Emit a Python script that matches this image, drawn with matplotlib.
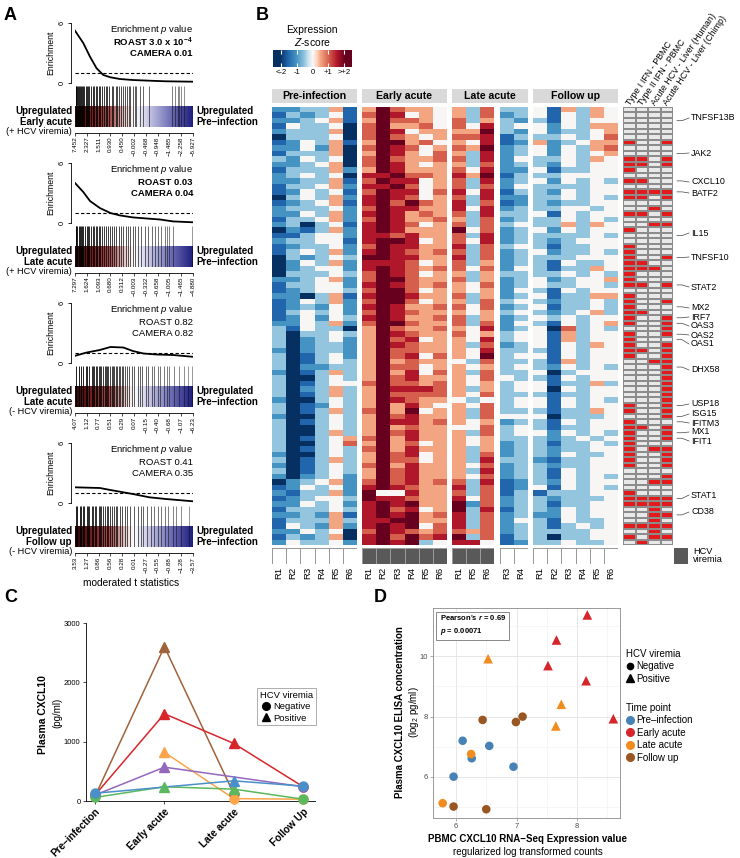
import numpy as np
import matplotlib
matplotlib.use('Agg')
import matplotlib.pyplot as plt
from matplotlib.colors import LinearSegmentedColormap, ListedColormap
from matplotlib.lines import Line2D
from matplotlib.patches import Rectangle

plt.rcParams['font.family'] = ['Liberation Sans', 'DejaVu Sans']
plt.rcParams['mathtext.fontset'] = 'custom'
plt.rcParams['mathtext.rm'] = 'Liberation Sans'
plt.rcParams['mathtext.it'] = 'Liberation Sans:italic'
plt.rcParams['mathtext.bf'] = 'Liberation Sans:bold'
plt.rcParams['mathtext.bfit'] = 'Liberation Sans:italic:bold'

W, H = 740, 858

# ---------------- panel A data (barcode plots) ----------------
a_left = ['Early acute', 'Late acute', 'Late acute', 'Follow up']
a_viremia = ['(+ HCV viremia)', '(+ HCV viremia)', '(- HCV viremia)', '(- HCV viremia)']
a_roast = ['ROAST 3.0 x 10$^{\\mathbf{-4}}$', 'ROAST 0.03', 'ROAST 0.82', 'ROAST 0.41']
a_camera = ['CAMERA 0.01', 'CAMERA 0.04', 'CAMERA 0.82', 'CAMERA 0.35']
a_bold = [True, True, False, False]
a_ticks = [
    ['7.452', '2.327', '1.511', '0.930', '0.450', '−0.002', '−0.468', '−0.948', '−1.485', '−2.258', '−5.927'],
    ['7.297', '1.624', '1.093', '0.680', '0.312', '−0.003', '−0.332', '−0.658', '−1.005', '−1.465', '−4.880'],
    ['4.07', '1.12', '0.77', '0.51', '0.29', '0.07', '−0.15', '−0.40', '−0.68', '−1.07', '−6.23'],
    ['3.53', '1.27', '0.86', '0.56', '0.28', '0.01', '−0.27', '−0.55', '−0.88', '−1.28', '−3.57'],
]
a_curve_x = [
    [0, 0.07, 0.127, 0.183, 0.24, 0.3, 0.38, 0.49, 0.63, 0.77, 1.0],
    [0, 0.07, 0.127, 0.21, 0.3, 0.38, 0.49, 0.63, 0.72, 0.83, 1.0],
    [0, 0.1, 0.21, 0.3, 0.41, 0.49, 0.58, 0.69, 0.83, 1.0],
    [0, 0.21, 0.3, 0.49, 0.63, 0.77, 1.0],
]
a_curve_y = [
    [5.23, 4.0, 2.63, 1.47, 0.8, 0.57, 0.4, 0.3, 0.23, 0.17, 0.13],
    [4.0, 3.1, 2.2, 1.5, 1.0, 0.76, 0.56, 0.43, 0.35, 0.16, 0.07],
    [0.72, 1.05, 1.3, 1.6, 1.55, 1.2, 0.95, 0.85, 0.8, 0.62],
    [1.57, 1.5, 1.3, 0.9, 0.57, 0.4, 0.17],
]
a_barcode = [
    [0.005, 0.012, 0.02, 0.028, 0.035, 0.045, 0.055, 0.062, 0.07, 0.08, 0.09, 0.1, 0.11, 0.12,
     0.135, 0.15, 0.16, 0.175, 0.19, 0.2, 0.215, 0.23, 0.245, 0.26, 0.275, 0.29, 0.31, 0.325,
     0.345, 0.36, 0.375, 0.39, 0.41, 0.425, 0.44, 0.455, 0.47, 0.49, 0.505, 0.52, 0.55, 0.58,
     0.63, 0.82, 0.845, 0.87, 0.885, 0.9, 0.925],
    [0.005, 0.012, 0.02, 0.03, 0.04, 0.05, 0.06, 0.07, 0.085, 0.1, 0.11, 0.12, 0.135, 0.15,
     0.165, 0.18, 0.19, 0.2, 0.215, 0.23, 0.245, 0.26, 0.28, 0.3, 0.315, 0.33, 0.35, 0.37,
     0.39, 0.41, 0.43, 0.45, 0.47, 0.49, 0.51, 0.53, 0.56, 0.59, 0.62, 0.65, 0.68, 0.7, 0.73,
     0.76, 0.78, 0.8, 0.83, 0.99],
    [0.01, 0.03, 0.05, 0.07, 0.09, 0.1, 0.12, 0.14, 0.15, 0.16, 0.18, 0.19, 0.2, 0.21, 0.22,
     0.24, 0.25, 0.26, 0.27, 0.28, 0.3, 0.31, 0.32, 0.33, 0.35, 0.36, 0.37, 0.38, 0.4, 0.41,
     0.42, 0.44, 0.46, 0.48, 0.5, 0.53, 0.55, 0.57, 0.6, 0.62, 0.65, 0.67, 0.7, 0.72, 0.75,
     0.78, 0.8, 0.84, 0.88, 0.92, 0.96, 0.99],
    [0.01, 0.02, 0.04, 0.05, 0.07, 0.08, 0.1, 0.11, 0.12, 0.14, 0.15, 0.17, 0.18, 0.2, 0.21,
     0.22, 0.24, 0.25, 0.27, 0.28, 0.3, 0.31, 0.33, 0.35, 0.36, 0.38, 0.4, 0.42, 0.44, 0.47,
     0.5, 0.53, 0.56, 0.58, 0.61, 0.64, 0.67, 0.7, 0.73, 0.76, 0.79, 0.83, 0.86, 0.9, 0.97],
]

# ---------------- panel B data (heatmap) ----------------
# digits 0..8 -> z-score -2..+2 ; groups: pre(R1-6) early(R1-6) late(R1 R5 R6) late(R3 R4) follow(R1-6)
zscore_rows = [
    "223351 586554 536 33 415354", "132341 687454 536 23 414354", "223451 586654 635 32 314344",
    "143340 685564 647 34 424355", "233350 687455 558 32 423345", "033340 686545 667 13 334346",
    "124351 588564 547 12 523455", "224250 687645 658 23 424356", "133350 587546 537 23 424345",
    "324340 686556 637 24 334354", "223450 687545 536 23 324344", "133352 587555 647 22 413344",
    "234340 778665 758 13 334444", "223351 687745 637 23 424343", "133452 778645 636 24 333344",
    "124341 687746 747 13 324344", "034352 787645 637 22 334343", "123451 786865 736 12 323344",
    "233342 687755 747 23 334434", "224352 787565 637 33 414344", "133452 687556 536 23 334343",
    "230341 787645 636 34 335354", "021352 787555 846 23 424344", "113442 776755 637 23 333343",
    "233441 788745 647 23 323444", "123342 687755 736 34 313344", "134352 787656 636 23 423343",
    "032343 887755 736 23 333444", "024352 777645 635 23 314334", "023442 787656 646 24 313354",
    "033343 687645 535 33 334343", "223452 688655 635 23 423445", "133442 787656 546 23 433443",
    "123443 688645 545 24 314344", "220351 788755 635 23 413355", "124352 688645 536 34 323343",
    "123242 787556 646 23 413343", "134342 687655 545 34 323453", "124243 787556 635 23 434344",
    "224352 688655 636 24 314345", "314330 586556 547 23 406343", "303343 587655 645 34 415344",
    "302342 586745 547 34 415344", "302332 587655 536 23 414354", "202332 586655 547 33 314344",
    "301342 586746 548 34 414344", "301343 585655 436 33 315344", "302233 586645 545 34 324343",
    "201353 585746 536 33 403444", "300343 586755 546 43 314344", "301344 686656 545 34 413353",
    "302353 587776 535 34 404344", "301353 586666 546 33 313344", "200343 587655 434 34 414343",
    "301243 585754 546 34 414344", "301353 685845 536 33 313354", "200343 586755 536 44 403334",
    "301343 587756 545 23 314344", "300343 585655 446 34 313344", "300353 586755 536 34 424343",
    "301345 685755 545 33 323434", "300346 585645 545 23 313343", "301343 685755 535 23 323344",
    "200343 586745 536 23 324334", "301353 586645 537 33 213344", "201343 685755 546 23 323344",
    "301343 586755 537 23 314344", "202342 586755 546 23 314343", "023452 686756 637 12 324344",
    "124342 787655 736 12 414343", "213352 844755 636 13 133344", "123443 877655 746 23 323334",
    "224342 787855 826 23 313344", "133343 786745 837 13 324344", "223251 787856 736 23 224344",
    "133353 778855 736 24 314334", "143252 787846 736 23 313434", "224340 687656 656 23 333344",
    "132350 786867 836 13 303344", "243342 787834 774 12 334334",
]
block_cols = [['R1', 'R2', 'R3', 'R4', 'R5', 'R6'], ['R1', 'R2', 'R3', 'R4', 'R5', 'R6'],
              ['R1', 'R5', 'R6'], ['R3', 'R4'], ['R1', 'R2', 'R3', 'R4', 'R5', 'R6']]
block_viremia = [[0] * 6, [1] * 6, [1, 1, 1], [0, 0], [0] * 6]
headers = ['Pre-infection', 'Early acute', 'Late acute', 'Follow up']

annot_names = ['Type I IFN - PBMC', 'Type II IFN - PBMC',
               'Acute HCV - Liver (Human)', 'Acute HCV - Liver (Chimp)']
annot_rows = [
    [6, 9, 10, 11, 13, 15, 16, 19, 22, 25, 26, 27, 28, 29, 30, 31, 32, 34, 35, 36, 37, 38, 39,
     41, 42, 43, 44, 45, 54, 55, 57, 58, 59, 60, 61, 62, 63, 64, 65, 70, 71, 72, 76, 78],
    [9, 10, 13, 15, 16, 19, 28, 29, 32, 37, 44, 58, 71, 72, 76, 79],
    [15, 18, 21, 29, 46, 62, 68, 71, 72, 73, 74, 75, 76, 77, 78],
    [6, 9, 10, 15, 16, 19, 21, 27, 32, 35, 38, 39, 40, 41, 43, 44, 45, 46, 47, 48, 49, 50, 51,
     52, 53, 54, 55, 56, 58, 59, 60, 62, 63, 64, 65, 67, 68, 71, 72, 74, 76, 78],
]
genes = ['TNFSF13B', 'JAK2', 'CXCL10', 'BATF2', 'IL15', 'TNFSF10', 'STAT2', 'MX2', 'IRF7',
         'OAS3', 'OAS2', 'OAS1', 'DHX58', 'USP18', 'ISG15', 'IFITM3', 'MX1', 'IFIT1', 'STAT1', 'CD38']
gene_rows = [2, 8, 13, 15, 23, 27, 32, 36, 38, 39, 41, 42, 47, 54, 56, 57, 59, 60, 71, 74]
gene_label_y = [118, 153, 182, 193, 233, 257, 287, 308, 317, 326, 335, 344, 370, 404, 414,
                423, 432, 441, 495, 512]

# ---------------- panel C data ----------------
c_stages = ['Pre–infection', 'Early acute', 'Late acute', 'Follow Up']
c_colors = ['#a0623a', '#d7262b', '#fca54a', '#9467bd', '#5cb85c', '#4a90c8']
c_values = [
    [80, 2600, 120, np.nan],
    [100, 1470, 970, 240],
    [np.nan, 820, 40, 30],
    [100, 570, np.nan, 240],
    [60, 240, 200, 30],
    [130, np.nan, 340, 250],
]
c_viremia = [
    [0, 1, 0, 0],
    [0, 1, 1, 0],
    [0, 1, 0, 0],
    [0, 1, 0, 0],
    [0, 1, 1, 0],
    [0, 1, 1, 0],
]

# ---------------- panel D data ----------------
d_timepoints = ['Pre–infection', 'Early acute', 'Late acute', 'Follow up']
d_colors = ['#4682b4', '#d7262b', '#f28c1e', '#995522']
d_x = [[6.11, 6.26, 6.55, 5.96, 6.95],
       [8.17, 7.66, 7.52, 8.15, 8.60],
       [6.53, 7.74, 7.65, 6.25, 5.78],
       [6.44, 6.99, 7.10, 5.96, 6.50]]
d_y = [[7.20, 6.62, 7.03, 6.01, 6.34],
       [11.37, 10.54, 9.69, 9.19, 7.93],
       [9.92, 8.41, 7.69, 6.76, 5.13],
       [7.89, 7.82, 8.00, 5.02, 4.93]]
d_viremia = [[0, 0, 0, 0, 0],
             [1, 1, 1, 1, 1],
             [1, 1, 1, 0, 0],
             [0, 0, 0, 0, 0]]

# ======================================================================
fig = plt.figure(figsize=(W / 100, H / 100), dpi=100)


def add_ax(x0, y0, x1, y1):
    return fig.add_axes([x0 / W, 1 - y1 / H, (x1 - x0) / W, (y1 - y0) / H])


ov = fig.add_axes([0, 0, 1, 1], zorder=10)
ov.set_xlim(0, W)
ov.set_ylim(H, 0)
ov.axis('off')

for lab, x, y in [('A', 4, 16), ('B', 256, 16), ('C', 4, 597), ('D', 374, 597)]:
    ov.text(x, y, lab, fontsize=13, fontweight='bold', va='center', ha='left')

# ---------------- panel A ----------------
band_cmap = LinearSegmentedColormap.from_list('band', [
    (0, '#2b0505'), (0.12, '#6e1b1b'), (0.3, '#a35050'), (0.44, '#eed6d6'), (0.5, '#ffffff'),
    (0.58, '#dcdcf0'), (0.8, '#7474b8'), (1, '#1e1e7e')])

for i in range(4):
    top = 23 + 140 * i
    ax = add_ax(75, top - 3, 193, top + 63)
    ax.set_xlim(0, 1)
    ax.set_ylim(-0.3, 6.3)
    ax.plot(a_curve_x[i], a_curve_y[i], color='black', lw=1.3)
    ax.axhline(1, ls=(0, (3, 2)), color='black', lw=0.8)
    for s in ['top', 'right', 'bottom']:
        ax.spines[s].set_visible(False)
    ax.spines['left'].set_position(('outward', 3))
    ax.spines['left'].set_bounds(0, 6)
    ax.spines['left'].set_linewidth(0.6)
    ax.set_xticks([])
    ax.set_yticks([0, 6])
    ax.set_yticklabels(['0', '6'], rotation=90, va='center', fontsize=5.5)
    ax.tick_params(axis='y', length=2.5, width=0.6, pad=1.5)
    ax.set_ylabel('Enrichment', fontsize=6.3, labelpad=2)
    ax.patch.set_alpha(0)

    bx = add_ax(75, top + 63, 193, top + 104)
    bx.set_xlim(0, 1)
    bx.set_ylim(0, 2)
    bx.imshow(np.linspace(0, 1, 256)[None, :], extent=[0, 1, 0, 1], aspect='auto', cmap=band_cmap)
    pos = np.array(a_barcode[i])
    cols = [(0, 0, 0, 0.9 - 0.5 * p) for p in pos]
    bx.vlines(pos, 0, 2, colors=cols, lw=0.7)
    for s in ['top', 'right', 'left']:
        bx.spines[s].set_visible(False)
    bx.spines['bottom'].set_position(('outward', 4))
    bx.spines['bottom'].set_bounds(0, 1)
    bx.spines['bottom'].set_linewidth(0.6)
    bx.set_yticks([])
    bx.set_xticks(np.linspace(0, 1, 11))
    bx.set_xticklabels(a_ticks[i], rotation=90, fontsize=4.5)
    bx.tick_params(axis='x', length=2, width=0.5, pad=1)

    ov.text(193, top + 7, 'Enrichment $p$ value', ha='right', va='center', fontsize=6.8)
    w = 'bold' if a_bold[i] else 'normal'
    ov.text(193, top + 19.5, a_roast[i], ha='right', va='center', fontsize=6.8, fontweight=w)
    ov.text(193, top + 30.5, a_camera[i], ha='right', va='center', fontsize=6.8, fontweight=w)
    ov.text(72, top + 88, 'Upregulated', ha='right', va='center', fontsize=7, fontweight='bold')
    ov.text(72, top + 99, a_left[i], ha='right', va='center', fontsize=7, fontweight='bold')
    ov.text(72, top + 109, a_viremia[i], ha='right', va='center', fontsize=6.6)
    ov.text(196, top + 88, 'Upregulated', ha='left', va='center', fontsize=7, fontweight='bold')
    ov.text(196, top + 99, 'Pre–infection', ha='left', va='center', fontsize=7, fontweight='bold')

ov.text(131, 583, 'moderated t statistics', ha='center', va='center', fontsize=7.3)

# ---------------- panel B ----------------
zmat = np.array([[int(c) for c in r.replace(' ', '')] for r in zscore_rows]) / 2.0 - 2.0
nrow = zmat.shape[0]
hm_cmap = LinearSegmentedColormap.from_list('rdbu', [
    (0, '#053061'), (0.125, '#2166ac'), (0.25, '#4393c3'), (0.375, '#92c5de'), (0.44, '#d1e5f0'),
    (0.5, '#f7f7f7'), (0.56, '#fddbc7'), (0.625, '#f4a582'), (0.75, '#d6604d'), (0.875, '#b2182b'),
    (1, '#67001f')])

blocks_x = [(272, 357), (362, 447), (452, 494), (500, 528), (533, 618)]
top_hm, bot_hm = 107, 545
c0 = 0
for b, (x0, x1) in enumerate(blocks_x):
    n = len(block_cols[b])
    hx = add_ax(x0, top_hm, x1, bot_hm)
    hx.pcolormesh(np.arange(n + 1), np.arange(nrow + 1), zmat[:, c0:c0 + n],
                  cmap=hm_cmap, vmin=-2, vmax=2)
    hx.set_xlim(0, n)
    hx.set_ylim(nrow, 0)
    hx.axis('off')
    vx = add_ax(x0, 548, x1, 564)
    vx.pcolormesh(np.arange(n + 1), [0, 1], np.array([block_viremia[b]]),
                  cmap=ListedColormap(['white', '#595959']), vmin=0, vmax=1,
                  edgecolors='#9a9a9a', linewidth=0.5)
    vx.set_xlim(0, n)
    vx.set_ylim(1, 0)
    for s in vx.spines.values():
        s.set_visible(False)
    vx.set_yticks([])
    vx.set_xticks(np.arange(n) + 0.5)
    vx.set_xticklabels(block_cols[b], rotation=90, fontsize=6.8)
    vx.tick_params(axis='x', length=0, pad=2)
    c0 += n

for (x0, x1), hd in zip([(272, 357), (362, 447), (452, 528), (533, 618)], headers):
    ov.add_patch(Rectangle((x0, 89), x1 - x0, 14, facecolor='#d9d9d9', edgecolor='none'))
    ov.text((x0 + x1) / 2, 96, hd, ha='center', va='center', fontsize=7.6, fontweight='bold')

# annotation grid
amat = np.zeros((nrow, 4))
for j, rows in enumerate(annot_rows):
    amat[rows, j] = 1
gx = add_ax(623, top_hm, 673, bot_hm)
gx.pcolormesh(np.arange(5), np.arange(nrow + 1), amat,
              cmap=ListedColormap(['#e8e8e8', '#e31a1c']), vmin=0, vmax=1,
              edgecolors='#8c8c8c', linewidth=0.35)
gx.set_xlim(0, 4)
gx.set_ylim(nrow, 0)
gx.axis('off')
for j, nm in enumerate(annot_names):
    ov.text(628 + 12.5 * j, 104, nm, rotation=56, rotation_mode='anchor',
            ha='left', va='center', fontsize=6.4)

to_ov = ov.transData.inverted()
for g, r, ly in zip(genes, gene_rows, gene_label_y):
    px, py = to_ov.transform(gx.transData.transform((4, r + 0.5)))
    ov.plot([px + 4, px + 9, px + 16], [py, py, ly], color='#444444', lw=0.5)
    ov.text(px + 18, ly, g, ha='left', va='center', fontsize=6.4)

ov.add_patch(Rectangle((674, 548), 14, 16, facecolor='#595959', edgecolor='none'))
ov.text(693, 551, 'HCV', ha='left', va='center', fontsize=6.6)
ov.text(693, 560, 'viremia', ha='left', va='center', fontsize=6.6)

# colorbar
cb = add_ax(273, 50, 352, 67)
cb.imshow(np.linspace(-2.4, 2.4, 256)[None, :], extent=[-2.4, 2.4, 0, 1], aspect='auto',
          cmap=hm_cmap, vmin=-2, vmax=2)
cb.vlines([-1.9, -0.95, 0, 0.95, 1.9], 0, 0.22, colors='white', lw=0.8)
cb.vlines([-1.9, -0.95, 0, 0.95, 1.9], 0.78, 1, colors='white', lw=0.8)
cb.set_xlim(-2.4, 2.4)
cb.set_ylim(0, 1)
cb.axis('off')
for v, t in zip([-1.9, -0.95, 0, 0.95, 1.9], ['<-2', '-1', '0', '+1', '>+2']):
    ov.text(273 + (v + 2.4) / 4.8 * 79, 72, t, ha='center', va='center', fontsize=5.5)
ov.text(312, 30, 'Expression', ha='center', va='center', fontsize=7.5)
ov.text(312, 42, '$Z$-score', ha='center', va='center', fontsize=7.5)

# ---------------- panel C ----------------
cx = add_ax(86, 623, 315, 801)
xs = np.arange(4)
for vals, vir, col in zip(c_values, c_viremia, c_colors):
    vals = np.array(vals, dtype=float)
    ok = ~np.isnan(vals)
    cx.plot(xs[ok], vals[ok], color=col, lw=1.1, clip_on=False, zorder=2)
    for k in range(4):
        if ok[k]:
            cx.plot(xs[k], vals[k], marker='^' if vir[k] else 'o', ms=7 if vir[k] else 6.5,
                    color=col, ls='', clip_on=False, zorder=3)
cx.set_xlim(-0.13, 3.17)
cx.set_ylim(0, 3000)
cx.spines['top'].set_visible(False)
cx.spines['right'].set_visible(False)
for s in ['left', 'bottom']:
    cx.spines[s].set_linewidth(0.6)
cx.set_yticks([0, 1000, 2000, 3000])
cx.tick_params(axis='y', labelsize=5.5, length=2.5, width=0.5, pad=1.5)
cx.set_xticks(xs)
cx.set_xticklabels(c_stages, rotation=45, ha='right', rotation_mode='anchor',
                   fontsize=7.3, fontweight='bold')
cx.tick_params(axis='x', length=2.5, width=0.5, pad=1.5)
ov.text(43, 715, 'Plasma CXCL10', rotation=90, ha='center', va='center',
        fontsize=7.5, fontweight='bold')
ov.text(57, 713, '(pg/ml)', rotation=90, ha='center', va='center', fontsize=7)
c_handles = [Line2D([], [], marker='o', ls='', color='black', ms=5.5),
             Line2D([], [], marker='^', ls='', color='black', ms=6)]
lc = cx.legend(c_handles, ['Negative', 'Positive'], title='HCV viremia',
               loc='upper left', bbox_to_anchor=(257 / W, 1 - 688 / H), bbox_transform=fig.transFigure,
               fontsize=6.8, title_fontsize=6.8, frameon=True, fancybox=False, edgecolor='#888888',
               handlelength=0.8, handletextpad=0.4, labelspacing=0.25, borderpad=0.3,
               borderaxespad=0)
lc.get_frame().set_linewidth(0.6)

# ---------------- panel D ----------------
dx = add_ax(433, 608, 620, 818)
dx.set_xlim(5.62, 8.71)
dx.set_ylim(4.64, 11.6)
dx.set_xticks([6, 7, 8])
dx.set_yticks([6, 8, 10])
dx.set_xticks([6.5, 7.5, 8.5], minor=True)
dx.set_yticks([5, 7, 9, 11], minor=True)
dx.grid(which='major', color='#e3e3e3', lw=0.6)
dx.grid(which='minor', color='#f0f0f0', lw=0.4)
dx.set_axisbelow(True)
for s in dx.spines.values():
    s.set_color('#8a8a8a')
    s.set_linewidth(0.6)
dx.tick_params(which='major', labelsize=5.5, labelcolor='#4d4d4d', color='#8a8a8a',
               length=2, width=0.5, pad=1.5)
dx.tick_params(which='minor', length=0)
for t in range(4):
    for xv, yv, vv in zip(d_x[t], d_y[t], d_viremia[t]):
        dx.scatter(xv, yv, marker='^' if vv else 'o', s=48 if vv else 38,
                   color=d_colors[t], edgecolors='none', zorder=3)
dx.text(0.035, 0.975, "Pearson's $\\mathbfit{r}$ = 0.69\n$\\mathbfit{p}$ = 0.00071",
        transform=dx.transAxes, ha='left', va='top', fontsize=5.5, fontweight='bold',
        linespacing=1.5,
        bbox=dict(boxstyle='square,pad=0.45', facecolor='white', edgecolor='#888888', lw=0.7))
ov.text(528, 839, 'PBMC CXCL10 RNA−Seq Expression value', ha='center', va='center',
        fontsize=7, fontweight='bold')
ov.text(528, 852, 'regularized log transformed counts', ha='center', va='center', fontsize=7)
ov.text(400, 712, 'Plasma CXCL10 ELISA concentration', rotation=90, ha='center', va='center',
        fontsize=7, fontweight='bold')
ov.text(414, 712, '(log$_2$ pg/ml)', rotation=90, ha='center', va='center', fontsize=7)

d_shape = [Line2D([], [], marker='o', ls='', color='black', ms=4.5),
           Line2D([], [], marker='^', ls='', color='black', ms=5.5)]
l1 = dx.legend(d_shape, ['Negative', 'Positive'], title='HCV viremia', loc='upper left',
               bbox_to_anchor=(626 / W, 1 - 649 / H), bbox_transform=fig.transFigure,
               frameon=False, fontsize=7, title_fontsize=7, handlelength=0.8,
               handletextpad=0.3, labelspacing=0.25, borderaxespad=0, borderpad=0,
               alignment='left')
dx.add_artist(l1)
d_tp = [Line2D([], [], marker='o', ls='', color=c, ms=5.5) for c in d_colors]
dx.legend(d_tp, d_timepoints, title='Time point', loc='upper left',
          bbox_to_anchor=(626 / W, 1 - 703 / H), bbox_transform=fig.transFigure,
          frameon=False, fontsize=7, title_fontsize=7, handlelength=0.8,
          handletextpad=0.3, labelspacing=0.25, borderaxespad=0, borderpad=0,
          alignment='left')

fig.savefig('out.png', dpi=100)
